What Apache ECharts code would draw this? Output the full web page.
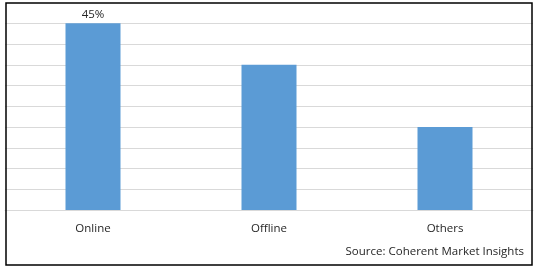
<!DOCTYPE html>
<html><head><meta charset="utf-8">
<script src="https://cdn.jsdelivr.net/npm/echarts@6/dist/echarts.min.js"></script>
<style>html,body{margin:0;padding:0;background:#fff}#c{width:538px;height:272px}</style>
</head><body><div id="c"></div>
<script>
const categories = ["Online", "Offline", "Others"];
const values = [45, 35, 20];
const labelShown = [true, false, false];
const yTicks = [0, 5, 10, 15, 20, 25, 30, 35, 40, 45];

const chart = echarts.init(document.getElementById('c'), null, {renderer: 'canvas'});
const font = '"Open Sans", "Noto Sans", sans-serif';
chart.setOption({
  animation: false,
  backgroundColor: '#fff',
  grid: {left: 5, right: 5, top: 23.3, bottom: 62},
  xAxis: {
    type: 'category', data: categories,
    axisLine: {show: true, lineStyle: {color: '#D9D9D9', width: 1}},
    axisTick: {show: false},
    axisLabel: {color: '#262626', fontSize: 11.5, fontFamily: font, margin: 13}
  },
  yAxis: {
    type: 'value', min: yTicks[0], max: yTicks[yTicks.length - 1], interval: 5,
    axisLine: {show: false}, axisTick: {show: false}, axisLabel: {show: false},
    splitLine: {lineStyle: {color: '#D9D9D9', width: 1}}
  },
  series: [{
    type: 'bar', barWidth: 55,
    data: values.map((v, i) => ({
      value: v,
      label: {show: labelShown[i], position: 'top', formatter: v + '%', color: '#262626', fontSize: 11.5, fontFamily: font, distance: 3}
    })),
    itemStyle: {color: '#5B9BD5'}
  }],
  graphic: [
    {type: 'rect', shape: {x: 6, y: 3, width: 526, height: 262}, style: {fill: 'none', stroke: '#000', lineWidth: 1.5}, z: 100},
    {type: 'text', right: 14, top: 246, style: {text: 'Source: Coherent Market Insights', fill: '#262626', font: '11.5px ' + font}}
  ]
});
</script></body></html>
